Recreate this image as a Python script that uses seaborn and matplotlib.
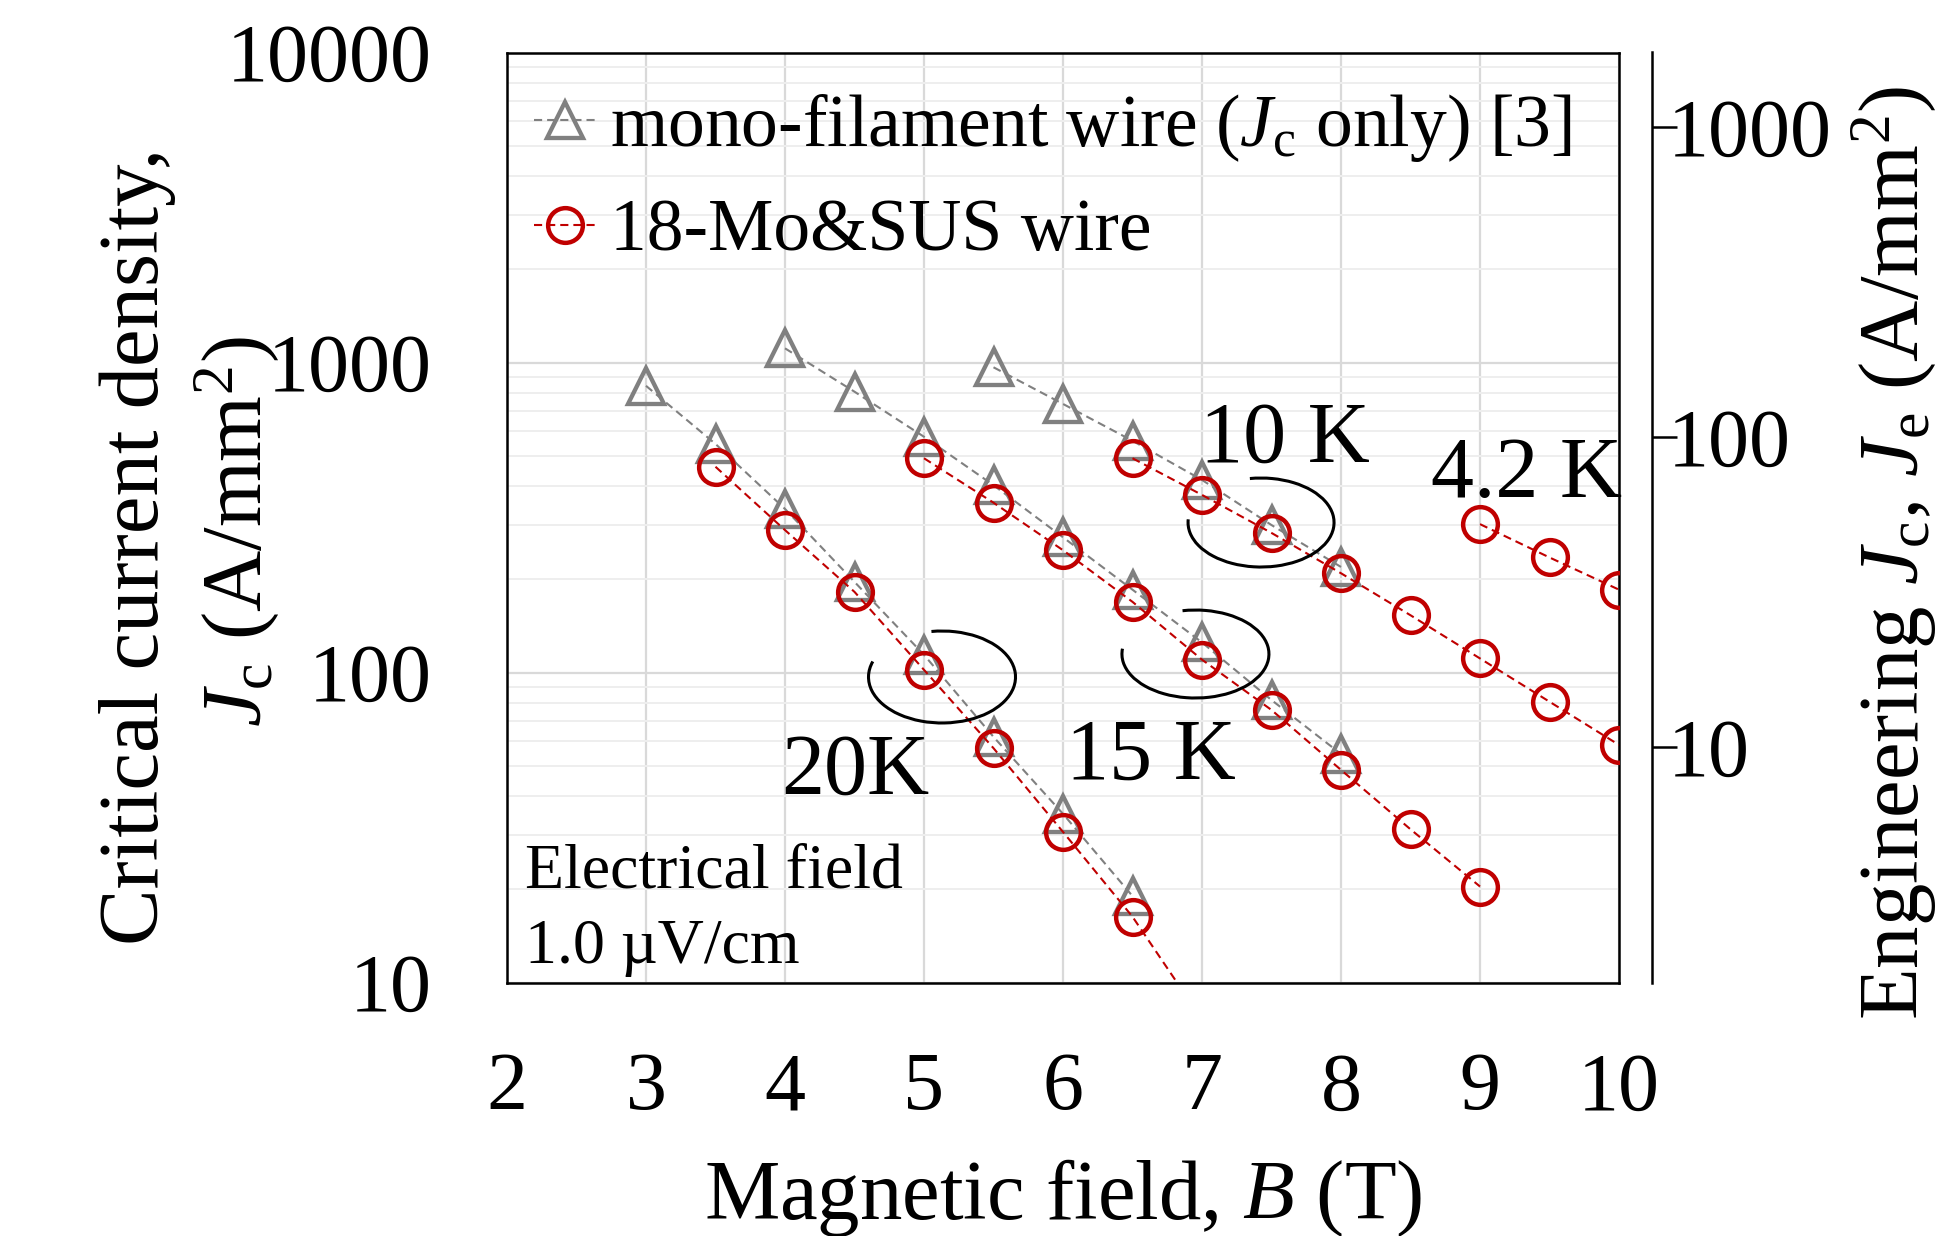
import numpy as np
import pandas as pd
import matplotlib
matplotlib.use("Agg")
import matplotlib.pyplot as plt
import seaborn as sns
from matplotlib.patches import Arc
from matplotlib.lines import Line2D
from matplotlib.ticker import LogLocator, NullLocator, FixedLocator, FixedFormatter

# ---------------- data ----------------
B_mono_20K = [3.0, 3.5, 4.0, 4.5, 5.0, 5.5, 6.0, 6.5]
Jc_mono_20K = [841, 546, 337, 196, 114, 62, 35, 19]
B_mono_15K = [4.0, 4.5, 5.0, 5.5, 6.0, 6.5, 7.0, 7.5, 8.0]
Jc_mono_15K = [1111, 805, 576, 402, 273, 185, 125, 81.5, 54.6]
B_mono_10K = [5.5, 6.0, 6.5, 7.0, 7.5, 8.0]
Jc_mono_10K = [965, 735, 559, 418, 299, 219]

B_sus_20K = [3.5, 4.0, 4.5, 5.0, 5.5, 6.0, 6.5, 7.0]
Jc_sus_20K = [461, 288, 182, 102, 57, 30.6, 16.3, 7.6]
B_sus_15K = [5.0, 5.5, 6.0, 6.5, 7.0, 7.5, 8.0, 8.5, 9.0]
Jc_sus_15K = [491, 353, 248, 169, 110, 75.7, 48.5, 31.2, 20.4]
B_sus_10K = [6.5, 7.0, 7.5, 8.0, 8.5, 9.0, 9.5, 10.0]
Jc_sus_10K = [491, 374, 282, 209, 153, 111, 80.5, 58.4]
B_sus_4K = [9.0, 9.5, 10.0]
Jc_sus_4K = [301, 235, 185]

x_ticks = [2, 3, 4, 5, 6, 7, 8, 9, 10]
y_ticks = [10, 100, 1000, 10000]
y2_ticks = [10, 100, 1000]
je_ratio = 5.73  # Jc / Je scale between the two axes

legend_labels = [r"mono-filament wire ($J_{\rm c}$ only) [3]", "18-Mo&SUS wire"]
temp_labels = ["10 K", "4.2 K", "20K", "15 K"]

# ---------------- style ----------------
sns.set_theme(style="white")
plt.rcParams["font.family"] = ["Liberation Serif", "DejaVu Serif"]
plt.rcParams["mathtext.fontset"] = "custom"
plt.rcParams["mathtext.rm"] = "Liberation Serif"
plt.rcParams["mathtext.it"] = "Liberation Serif:italic"
plt.rcParams["mathtext.bf"] = "Liberation Serif:bold"
for key in ["text.color", "axes.labelcolor", "xtick.color", "ytick.color", "axes.edgecolor"]:
    plt.rcParams[key] = "black"

GRAY = "#808080"
RED = "#C00000"
DPI = 200
W, H = 1960, 1236

fig = plt.figure(figsize=(W / DPI, H / DPI), dpi=DPI)
fig.patch.set_facecolor("white")
ax = fig.add_axes([507 / W, 1 - 982.5 / H, 1112 / W, 930 / H])

mono = [(B_mono_20K, Jc_mono_20K), (B_mono_15K, Jc_mono_15K), (B_mono_10K, Jc_mono_10K)]
sus = [(B_sus_20K, Jc_sus_20K), (B_sus_15K, Jc_sus_15K), (B_sus_10K, Jc_sus_10K), (B_sus_4K, Jc_sus_4K)]

dash = (0, (3.9, 2.4))
mono_style = dict(color=GRAY, linestyle=dash, linewidth=0.75, marker="^", markersize=13,
                  markerfacecolor="none", markeredgecolor=GRAY, markeredgewidth=1.55)
sus_style = dict(color=RED, linestyle=dash, linewidth=0.75, marker="o", markersize=12.5,
                 markerfacecolor="none", markeredgecolor=RED, markeredgewidth=1.6)

for bx, jy in mono:
    df = pd.DataFrame({"B": bx, "Jc": jy})
    sns.lineplot(data=df, x="B", y="Jc", ax=ax, estimator=None, sort=False, legend=False,
                 zorder=3, **mono_style)
for bx, jy in sus:
    df = pd.DataFrame({"B": bx, "Jc": jy})
    sns.lineplot(data=df, x="B", y="Jc", ax=ax, estimator=None, sort=False, legend=False,
                 zorder=4, **sus_style)

ax.set_yscale("log")
ax.set_xlim(2, 10)
ax.set_ylim(10, 10000)
ax.set_xlabel("")
ax.set_ylabel("")
ax.xaxis.set_major_locator(FixedLocator(x_ticks))
ax.set_xticklabels([str(t) for t in x_ticks])
ax.yaxis.set_major_locator(FixedLocator(y_ticks))
ax.yaxis.set_major_formatter(FixedFormatter([str(t) for t in y_ticks]))
ax.yaxis.set_minor_locator(LogLocator(base=10, subs=np.arange(2, 10)))
ax.yaxis.set_minor_formatter(matplotlib.ticker.NullFormatter())
ax.tick_params(which="both", length=0, colors="black")
ax.tick_params(axis="y", labelsize=29.5, pad=27)
ax.tick_params(axis="x", labelsize=29.5, pad=25)
ax.set_axisbelow(True)
ax.grid(which="major", axis="both", color="#d9d9d9", linewidth=0.8)
ax.grid(which="minor", axis="y", color="#eeeeee", linewidth=0.7)
for sp in ax.spines.values():
    sp.set_visible(True)
    sp.set_color("black")
    sp.set_linewidth(0.9)

# secondary (engineering Jc) axis
ax2 = ax.twinx()
ax2.set_yscale("log")
ax2.set_ylim(10 / je_ratio, 10000 / je_ratio)
for name in ["top", "left", "bottom"]:
    ax2.spines[name].set_visible(False)
ax2.spines["right"].set_position(("outward", 11.9))
ax2.spines["right"].set_linewidth(0.9)
ax2.spines["right"].set_color("black")
ax2.yaxis.set_major_locator(FixedLocator(y2_ticks))
ax2.yaxis.set_major_formatter(FixedFormatter([str(t) for t in y2_ticks]))
ax2.yaxis.set_minor_locator(NullLocator())
ax2.tick_params(axis="y", direction="out", length=9, width=0.9, pad=-3.2, labelsize=29.5,
                colors="black")

# axis titles
fig.text(1063 / W, 1 - 1219 / H, r"Magnetic field, $B$ (T)", ha="center", va="baseline", fontsize=30.5)
fig.text(137 / W, 1 - 546 / H, "Critical current density,", rotation=90, ha="center", va="center",
         fontsize=30.5)
fig.text(237 / W, 1 - 532 / H, r"$J_{\rm c}$ (A/mm$^2$)", rotation=90, ha="center", va="center",
         fontsize=30.5)
fig.text(1894 / W, 1 - 553 / H, r"Engineering $J_{\rm c}$, $J_{\rm e}$ (A/mm$^2$)", rotation=90,
         ha="center", va="center", fontsize=30.5)

# temperature labels
ax.text(7.6, 478, temp_labels[0], ha="center", va="baseline", fontsize=31)
ax.text(9.338, 368, temp_labels[1], ha="center", va="baseline", fontsize=31)
ax.text(4.504, 40.8, temp_labels[2], ha="center", va="baseline", fontsize=31)
ax.text(6.633, 45.3, temp_labels[3], ha="center", va="baseline", fontsize=31)
ax.text(2.13, 20.3, "Electrical field", ha="left", va="baseline", fontsize=23)
ax.text(2.13, 11.6, "1.0 \u00b5V/cm", ha="left", va="baseline", fontsize=23)

# loops around the temperature groups (axes coordinates)
arcs = [((0.3912, 0.3285), 0.1322, 0.0989, 165, 101),
        ((0.6191, 0.3532), 0.1322, 0.0946, 175, 104),
        ((0.6781, 0.4946), 0.1313, 0.0957, 177, 102)]
for (cx, cy), w, h, t1, t2 in arcs:
    ax.add_patch(Arc((cx, cy), w, h, theta1=t1, theta2=t2, transform=ax.transAxes,
                     color="black", linewidth=1.1, zorder=5))

# legend
handles = [Line2D([], [], **mono_style), Line2D([], [], **sus_style)]
leg = ax.legend(handles, legend_labels, loc="upper left", bbox_to_anchor=(0.0243, 0.958),
                frameon=False, fontsize=26.5, handlelength=0.83, handletextpad=0.2,
                labelspacing=0.48, borderpad=0, borderaxespad=0, numpoints=1)
for t in leg.get_texts():
    t.set_color("black")

fig.savefig("out.png", dpi=DPI, facecolor="white")
